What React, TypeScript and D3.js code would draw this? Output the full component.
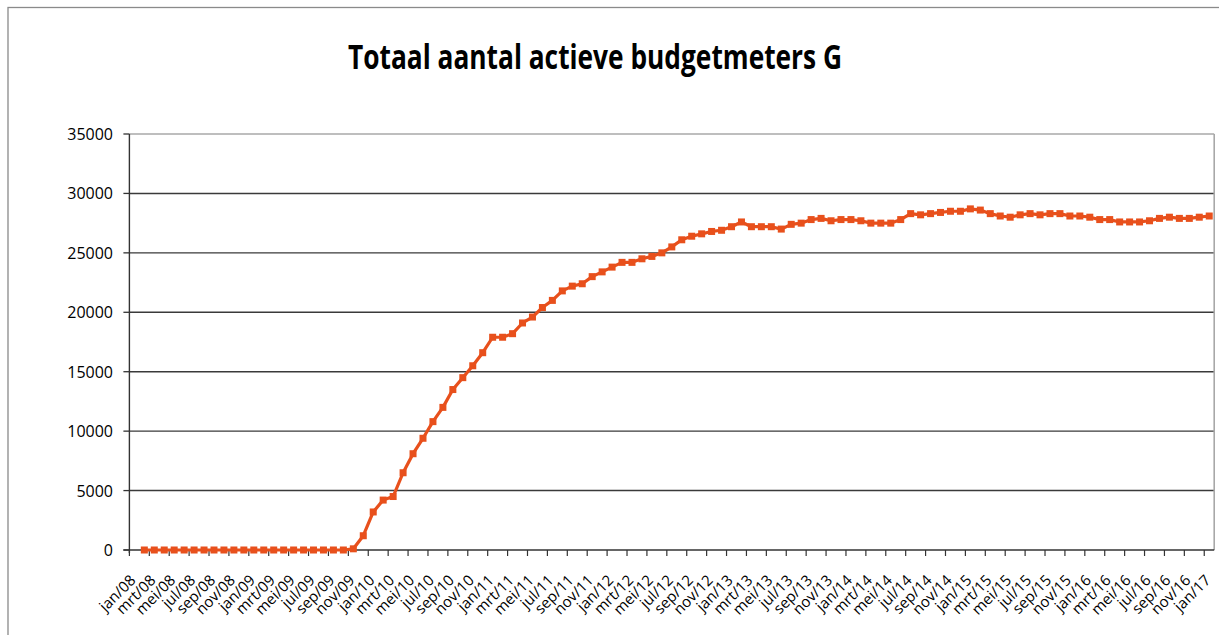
import React from "react";
import * as d3 from "d3";

const monthNames = ["jan", "feb", "mrt", "apr", "mei", "jun", "jul", "aug", "sep", "okt", "nov", "dec"];
const yearLabels = ["08", "09", "10", "11", "12", "13", "14", "15", "16"];
const lastCategory = "jan/17";

const categories: string[] = [];
yearLabels.forEach((y) => monthNames.forEach((m) => categories.push(`${m}/${y}`)));
categories.push(lastCategory);

// value per month, jan/08 is empty
const values: (number | null)[] = [
  null,
  0, 0, 0, 0, 0, 0, 0, 0, 0, 0, 0,
  0, 0, 0, 0, 0, 0, 0, 0, 0, 0, 100, 1200,
  3200, 4200, 4500, 6500, 8100, 9400, 10800, 12000, 13500, 14500, 15500, 16600,
  17900, 17900, 18200, 19100, 19600, 20400, 21000, 21800, 22200, 22400, 23000, 23400,
  23800, 24200, 24200, 24500, 24700, 25000, 25500, 26100, 26400, 26600, 26800, 26900,
  27200, 27600, 27200, 27200, 27200, 27000, 27400, 27500, 27800, 27900, 27700, 27800,
  27800, 27700, 27500, 27500, 27500, 27800, 28300, 28200, 28300, 28400, 28500, 28500,
  28700, 28600, 28300, 28100, 28000, 28200, 28300, 28200, 28300, 28300, 28100, 28100,
  28000, 27800, 27800, 27600, 27600, 27600, 27700, 27900, 28000, 27900, 27900, 28000,
  28100,
];

const yTicks = [0, 5000, 10000, 15000, 20000, 25000, 30000, 35000];
const title = "Totaal aantal actieve budgetmeters G";

const W = 1219;
const H = 635;
const left = 129.4;
const right = 1214.2;
const top = 134;
const bottom = 550;
const lineColor = "#E8501C";
const font = "'Open Sans', 'DejaVu Sans', sans-serif";

export default function App() {
  const x = d3.scaleBand<string>().domain(categories).range([left, right]).padding(0);
  const bw = x.bandwidth();
  const cx = (c: string) => (x(c) as number) + bw / 2;
  const y = d3.scaleLinear().domain([0, 35000]).range([bottom, top]);

  const pts = categories
    .map((c, i) => ({ c, v: values[i] }))
    .filter((d) => d.v !== null) as { c: string; v: number }[];

  const line = d3
    .line<{ c: string; v: number }>()
    .x((d) => cx(d.c))
    .y((d) => y(d.v));

  const ms = 7;

  return (
    <svg
      width={W}
      height={H}
      style={{ position: "absolute", left: 0, top: 0, display: "block", background: "#fff" }}
    >
      <rect x={8} y={7.5} width={W + 20} height={H + 20} fill="none" stroke="#8a8a8a" strokeWidth={1.3} />
      <text
        x={595}
        y={69}
        textAnchor="middle"
        fontFamily={font}
        fontWeight="bold"
        fontSize={34}
        textLength={494}
        lengthAdjust="spacingAndGlyphs"
        fill="#000"
      >
        {title}
      </text>

      {/* gridlines */}
      {yTicks
        .filter((t) => t > 0 && t < 35000)
        .map((t) => (
          <line key={t} x1={left} x2={right} y1={y(t)} y2={y(t)} stroke="#3a3a3a" strokeWidth={1.4} />
        ))}
      {/* plot area border top and right */}
      <line x1={left} x2={right} y1={y(35000)} y2={y(35000)} stroke="#a8a8a8" strokeWidth={1.6} />
      <line x1={right} x2={right} y1={top} y2={bottom} stroke="#a8a8a8" strokeWidth={1.6} />

      {/* y axis */}
      <line x1={left} x2={left} y1={top} y2={bottom + 3} stroke="#333" strokeWidth={1.4} />
      {yTicks.map((t) => (
        <g key={t}>
          <line x1={left - 6} x2={left} y1={y(t)} y2={y(t)} stroke="#333" strokeWidth={1.3} />
          <text
            x={113}
            y={y(t)}
            textAnchor="end"
            dominantBaseline="central"
            fontFamily={font}
            fontSize={16}
            fill="#000"
          >
            {t}
          </text>
        </g>
      ))}

      {/* x axis */}
      <line x1={left - 6} x2={right} y1={bottom} y2={bottom} stroke="#333" strokeWidth={1.4} />
      {categories.map((c, i) =>
        i % 2 === 0 ? (
          <line
            key={"t" + c}
            x1={x(c) as number}
            x2={x(c) as number}
            y1={bottom}
            y2={bottom + 6}
            stroke="#333"
            strokeWidth={1.2}
          />
        ) : null
      )}
      {categories.map((c, i) =>
        i % 2 === 0 ? (
          <text
            key={"l" + c}
            transform={`translate(${cx(c) - 2},${577}) rotate(-45)`}
            textAnchor="end"
            dominantBaseline="central"
            fontFamily={font}
            fontSize={15}
            fill="#000"
          >
            {c}
          </text>
        ) : null
      )}

      {/* series */}
      <path d={line(pts) as string} fill="none" stroke={lineColor} strokeWidth={3.2} strokeLinejoin="round" />
      {pts.map((d) => (
        <rect
          key={"m" + d.c}
          x={cx(d.c) - ms / 2}
          y={y(d.v) - ms / 2}
          width={ms}
          height={ms}
          fill={lineColor}
        />
      ))}
    </svg>
  );
}
